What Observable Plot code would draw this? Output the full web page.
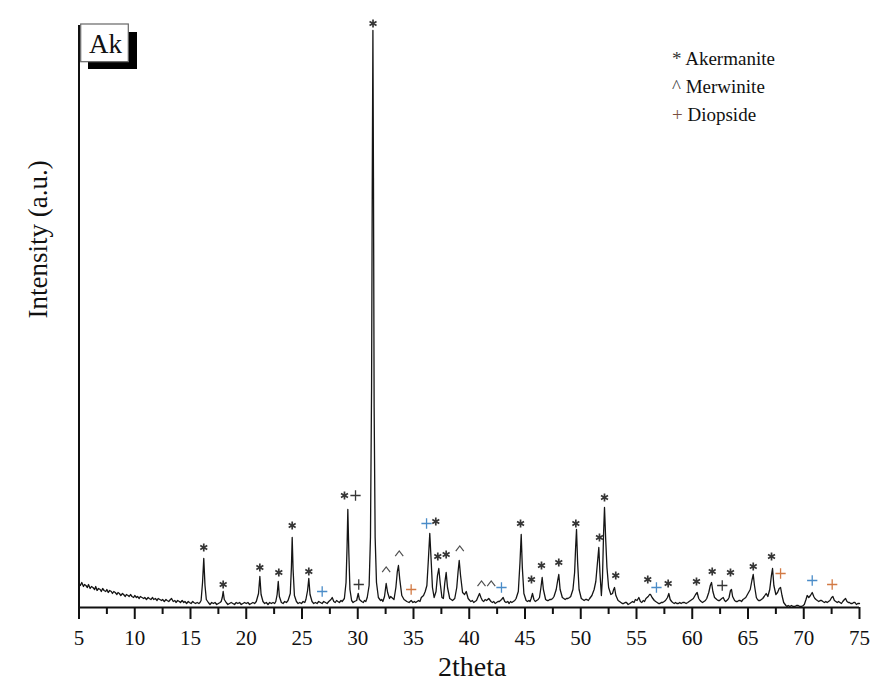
<!DOCTYPE html>
<html><head><meta charset="utf-8">
<script src="https://cdn.jsdelivr.net/npm/d3@7"></script>
<script src="https://cdn.jsdelivr.net/npm/@observablehq/plot@0.6"></script>
<style>
html,body{margin:0;padding:0;background:#fff;}
#chart{position:relative;width:870px;height:690px;}
#chart svg text{font-family:"Liberation Serif","Times New Roman",serif !important;}
</style></head><body><div id="chart"></div>
<script>
// XRD scan: [2theta, intensity (a.u.)]
const scanPoints = [
[5.0,24],[5.12,22],[5.25,25],[5.4,21],[5.5,23],[5.62,22],[5.75,20],[5.85,23],[6.0,19],[6.12,21],
[6.25,20],[6.4,18],[6.5,21],[6.62,17],[6.75,19],[6.9,18],[7.0,16],[7.12,19],[7.25,17],[7.4,16],
[7.5,18],[7.62,15],[7.75,17],[7.9,16],[8.0,14],[8.12,16],[8.25,15],[8.4,13],[8.5,15],[8.62,14],
[8.75,12],[8.9,14],[9.0,13],[9.15,11],[9.25,13],[9.4,12],[9.5,11],[9.62,13],[9.75,11],[9.9,10],
[10.0,12],[10.15,10],[10.25,11],[10.4,9],[10.5,11],[10.65,10],[10.8,9],[10.9,10],[11.05,8],[11.2,10],
[11.3,9],[11.45,8],[11.6,10],[11.7,8],[11.85,9],[12.0,7],[12.1,9],[12.25,8],[12.4,7],[12.5,8],
[12.65,6],[12.8,8],[12.9,7],[13.05,6],[13.2,8],[13.3,9],[13.45,6],[13.6,7],[13.7,5],[13.85,7],
[14.0,6],[14.1,5],[14.25,7],[14.4,5],[14.5,6],[14.65,4],[14.8,6],[14.9,5],[15.05,4],[15.2,6],
[15.3,5],[15.45,4],[15.6,5],[15.75,4],[15.85,5],[15.95,7],[16.08,25],[16.19,49],[16.3,22],[16.42,8],
[16.6,5],[16.75,3],[16.9,5],[17.05,4],[17.2,5],[17.35,3],[17.5,4],[17.65,5],[17.75,6],[17.85,10],
[17.93,16],[18.03,8],[18.2,5],[18.35,3],[18.5,4],[18.65,5],[18.8,4],[18.95,3],[19.1,5],[19.25,4],
[19.4,5],[19.55,3],[19.7,4],[19.85,5],[20.0,4],[20.15,5],[20.3,3],[20.45,4],[20.6,5],[20.75,4],
[20.9,6],[21.1,14],[21.22,31],[21.33,13],[21.5,6],[21.65,4],[21.8,5],[21.95,3],[22.1,5],[22.25,4],
[22.4,5],[22.55,4],[22.65,6],[22.77,13],[22.87,26],[22.97,11],[23.15,5],[23.3,4],[23.45,6],[23.6,5],
[23.75,7],[23.95,14],[24.05,40],[24.12,70],[24.2,38],[24.32,12],[24.5,6],[24.65,4],[24.8,5],[24.95,4],
[25.1,6],[25.25,5],[25.35,8],[25.5,17],[25.61,29],[25.72,13],[25.9,6],[26.05,4],[26.2,5],[26.35,4],
[26.5,6],[26.65,5],[26.8,4],[26.95,6],[27.1,5],[27.25,4],[27.4,6],[27.6,8],[27.71,10],[27.85,6],
[27.98,5],[28.1,7],[28.22,6],[28.35,5],[28.5,7],[28.6,6],[28.8,9],[28.95,25],[29.04,60],[29.11,98],
[29.2,55],[29.3,18],[29.45,7],[29.58,5],[29.7,6],[29.9,7],[30.04,14],[30.15,8],[30.35,6],[30.5,5],
[30.6,7],[30.72,6],[30.85,10],[31.02,22],[31.14,70],[31.24,220],[31.3,420],[31.36,577],[31.41,430],[31.47,200],
[31.56,70],[31.68,25],[31.85,10],[32.05,7],[32.15,8],[32.25,6],[32.4,11],[32.55,24],[32.68,15],[32.85,9],
[32.95,11],[33.05,10],[33.25,8],[33.42,20],[33.55,36],[33.65,42],[33.77,28],[33.95,12],[34.15,8],[34.28,7],
[34.4,6],[34.6,5],[34.79,7],[34.95,5],[35.08,6],[35.2,5],[35.45,7],[35.58,6],[35.7,10],[35.9,12],
[36.05,16],[36.2,22],[36.32,45],[36.46,74],[36.57,50],[36.7,20],[36.85,10],[37.02,16],[37.15,32],[37.27,39],
[37.4,24],[37.55,10],[37.68,9],[37.8,24],[37.93,35],[38.05,20],[38.25,9],[38.38,8],[38.5,7],[38.7,9],
[38.88,20],[39.0,36],[39.1,47],[39.22,32],[39.4,15],[39.58,13],[39.73,16],[39.9,9],[40.05,7],[40.15,6],
[40.28,7],[40.4,5],[40.52,6],[40.65,7],[40.8,11],[40.92,14],[41.05,10],[41.18,7],[41.3,6],[41.42,8],
[41.55,7],[41.75,9],[41.95,6],[42.08,5],[42.2,6],[42.32,4],[42.45,5],[42.58,6],[42.7,6],[42.9,8],
[43.04,10],[43.18,6],[43.3,5],[43.45,6],[43.58,4],[43.7,6],[43.82,5],[43.95,6],[44.08,7],[44.2,9],
[44.4,16],[44.55,45],[44.66,73],[44.76,40],[44.9,14],[45.1,7],[45.22,6],[45.35,7],[45.45,6],[45.55,9],
[45.67,14],[45.8,8],[45.92,6],[46.05,7],[46.18,8],[46.3,10],[46.43,20],[46.54,30],[46.65,18],[46.85,8],
[46.98,7],[47.1,7],[47.22,8],[47.35,8],[47.48,9],[47.6,11],[47.8,18],[47.93,27],[48.03,33],[48.15,18],
[48.35,10],[48.48,9],[48.6,8],[48.72,9],[48.85,9],[49.0,10],[49.1,11],[49.3,18],[49.45,35],[49.54,60],
[49.62,78],[49.72,45],[49.85,18],[50.05,9],[50.18,8],[50.3,7],[50.42,8],[50.55,8],[50.68,7],[50.8,9],
[51.0,12],[51.2,18],[51.35,26],[51.5,45],[51.62,60],[51.72,35],[51.85,12],[51.95,30],[52.05,75],[52.13,100],
[52.23,70],[52.35,40],[52.5,20],[52.7,13],[52.85,14],[52.95,18],[53.03,20],[53.15,12],[53.35,7],[53.48,6],
[53.6,5],[53.72,4],[53.85,4],[53.98,5],[54.1,5],[54.25,3],[54.4,4],[54.52,5],[54.65,6],[54.78,5],
[54.9,8],[55.05,7],[55.21,10],[55.35,6],[55.48,5],[55.6,7],[55.72,6],[55.85,9],[56.05,11],[56.17,13],
[56.26,13],[56.4,10],[56.6,7],[56.72,6],[56.85,5],[56.98,4],[57.1,4],[57.22,5],[57.35,5],[57.48,6],
[57.6,7],[57.78,10],[57.9,14],[58.02,8],[58.15,6],[58.25,5],[58.38,4],[58.5,5],[58.62,4],[58.75,4],
[58.88,5],[59.0,4],[59.15,5],[59.3,5],[59.45,4],[59.6,5],[59.72,6],[59.85,7],[60.1,9],[60.3,13],
[60.44,15],[60.58,9],[60.7,7],[60.8,6],[60.92,5],[61.05,6],[61.18,7],[61.3,9],[61.48,15],[61.62,22],
[61.73,25],[61.85,16],[62.0,10],[62.1,9],[62.2,8],[62.32,7],[62.45,7],[62.55,8],[62.65,9],[62.78,10],
[62.9,7],[63.0,6],[63.1,7],[63.2,8],[63.3,10],[63.43,17],[63.52,18],[63.62,11],[63.8,7],[63.92,6],
[64.05,6],[64.18,7],[64.3,7],[64.42,6],[64.55,8],[64.68,9],[64.8,10],[65.0,14],[65.2,18],[65.35,27],
[65.47,33],[65.58,22],[65.75,10],[65.85,8],[65.95,7],[66.08,7],[66.2,8],[66.32,9],[66.45,11],[66.63,14],
[66.78,11],[66.95,18],[67.1,32],[67.2,39],[67.32,22],[67.5,13],[67.65,15],[67.8,19],[67.92,20],[68.05,12],
[68.2,5],[68.4,2],[68.5,1],[68.6,2],[68.75,1],[68.9,2],[69.05,1],[69.2,1],[69.35,2],[69.5,2],
[69.65,1],[69.8,1],[69.95,2],[70.05,3],[70.2,8],[70.31,12],[70.45,10],[70.6,12],[70.76,15],[70.9,11],
[71.0,9],[71.1,8],[71.22,7],[71.35,6],[71.48,7],[71.6,7],[71.72,6],[71.85,5],[71.98,6],[72.1,5],
[72.22,6],[72.35,7],[72.5,10],[72.61,11],[72.75,7],[72.88,6],[73.0,5],[73.12,6],[73.25,5],[73.38,4],
[73.5,6],[73.65,8],[73.75,9],[73.88,6],[74.0,5],[74.1,5],[74.22,4],[74.35,4],[74.48,5],[74.6,5],
[74.72,3],[74.85,4],[75.0,4]
];

// Phase markers above the peaks
const markTheta = [16.19,17.93,21.22,22.92,24.12,25.61,26.81,28.81,29.80,30.09,31.37,32.55,33.72,34.79,36.17,37.00,37.18,37.93,39.15,41.10,41.97,42.89,44.60,45.58,46.48,48.03,49.56,51.68,52.13,53.14,56.01,56.79,57.84,60.38,61.79,62.69,63.43,65.47,67.11,67.92,70.76,72.55];
const markIntensity = [60,23,40,35,82,36,16,112,112,23,584,38,54,18,84,86,51,53,59,24,24,20,84,28,42,45,84,70,110,32,28,20,24,26,36,22,35,41,51,34,27,23];
const markPhase = ["A","A","A","A","A","A","D","A","D","D","A","M","M","D","D","A","A","A","M","M","M","D","A","A","A","A","A","A","A","A","A","D","A","A","A","D","A","A","A","D","D","D"];
const markTone = ["dark","dark","dark","dark","dark","dark","blue","dark","dark","dark","dark","dark","dark","orange","blue","dark","dark","dark","dark","dark","dark","blue","dark","dark","dark","dark","dark","dark","dark","dark","dark","blue","dark","dark","dark","dark","dark","dark","dark","orange","blue","orange"];

const majorTicks = [5,10,15,20,25,30,35,40,45,50,55,60,65,70,75];
const minorTicks = [7.5,12.5,17.5,22.5,27.5,32.5,37.5,42.5,47.5,52.5,57.5,62.5,67.5,72.5];
const legendSymbols = ["*","^","+"];
const legendNames = ["Akermanite","Merwinite","Diopside"];
const sampleLabel = "Ak";
const xLabel = "2theta";
const yLabel = "Intensity (a.u.)";

const scan = scanPoints.map(([t, I]) => ({t, I}));
const markers = markTheta.map((t, i) => ({t, I: markIntensity[i], phase: markPhase[i], tone: markTone[i]}));
const toneColor = {dark: "#363636", blue: "#4a8cc8", orange: "#d27a44"};
const caret = {draw(ctx, size) {const r = Math.sqrt(size / Math.PI); ctx.moveTo(-r, r * 0.65); ctx.lineTo(0, -r * 0.65); ctx.lineTo(r, r * 0.65);}};

function markerDots(phase, symbol, r, sw) {
  return Object.keys(toneColor).map(tone =>
    Plot.dot(markers.filter(d => d.phase === phase && d.tone === tone),
      {x: "t", y: "I", symbol, r, fill: "none", stroke: phase === "M" && tone === "dark" ? "#505050" : toneColor[tone], strokeWidth: sw}));
}

const font = "Liberation Serif, Times New Roman, serif";
const plot = Plot.plot({
  width: 870, height: 690,
  marginLeft: 78.5, marginRight: 11, marginTop: 25, marginBottom: 83,
  x: {domain: [5, 75], axis: null},
  y: {domain: [0, 582], axis: null},
  style: {fontFamily: font, color: "#111", background: "#fff", overflow: "visible"},
  marks: [
    Plot.line(scan, {x: "t", y: "I", stroke: "#151515", strokeWidth: 1.3}),
    ...markerDots("A", "asterisk", 3.8, 1.7),
    ...markerDots("D", "plus", 3.4, 1.3),
    ...markerDots("M", caret, 4, 1.2),
    Plot.ruleY([0], {stroke: "#111", strokeWidth: 2}),
    Plot.ruleX([5], {y1: 0, y2: 582, stroke: "#111", strokeWidth: 2}),
    Plot.axisX({ticks: majorTicks, tickSize: 12, tickPadding: 11, fontSize: 21, fontFamily: font, fontVariant: "normal", strokeWidth: 2, tickFormat: d => String(d), label: null}),
    Plot.axisX({ticks: minorTicks, tickSize: 7, strokeWidth: 2, tickFormat: () => "", label: null}),
    Plot.text([yLabel], {frameAnchor: "left", rotate: -90, dx: -40.5, dy: 2, fontSize: 27, fontFamily: font, fill: "#111"}),
    Plot.text([xLabel], {frameAnchor: "bottom", dx: 3, dy: 68, fontSize: 28, fontFamily: font, fill: "#111"})
  ]
});
document.getElementById("chart").appendChild(plot);

// Sample tag box and legend
const svg = d3.select(plot);
const tag = svg.append("g").attr("text-anchor", "start");
tag.append("rect").attr("x", 88).attr("y", 32).attr("width", 49).attr("height", 37).attr("fill", "#000");
tag.append("rect").attr("x", 80.7).attr("y", 24).attr("width", 47.6).attr("height", 37.7).attr("fill", "#fff").attr("stroke", "#666").attr("stroke-width", 1.2);
tag.append("text").attr("x", 89).attr("y", 53.3).attr("font-size", 27).attr("fill", "#111").text(sampleLabel);

const legendColors = ["#333", "#444", "#7a5040"];
const leg = svg.append("g").attr("text-anchor", "start").attr("font-size", 19).attr("fill", "#111");
legendNames.forEach((name, i) => {
  const t = leg.append("text").attr("x", 672).attr("y", 65 + i * 28);
  t.append("tspan").attr("fill", legendColors[i]).text(legendSymbols[i] + " ");
  t.append("tspan").text(name);
});
</script></body></html>
